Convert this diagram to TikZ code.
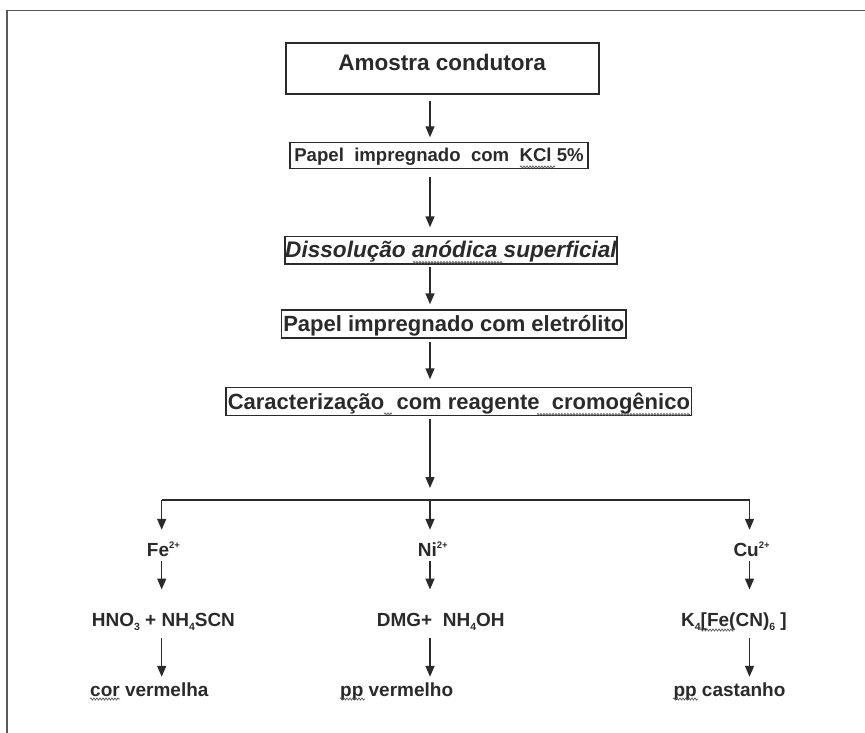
\documentclass[tikz,border=0pt]{standalone}
\usepackage{fontspec}
\setmainfont{Liberation Sans}
\usetikzlibrary{arrows.meta,decorations.pathmorphing,calc}
\definecolor{ink}{HTML}{2A2A2A}
\definecolor{framec}{HTML}{5A5A5A}
\newcommand{\dsub}[1]{\raisebox{-0.22em}{\scalebox{0.55}{#1}}}
\newcommand{\dsup}[1]{\raisebox{0.38em}{\scalebox{0.5}{#1}}}
\begin{document}
\begin{tikzpicture}[x=1pt,y=-1pt,
  every node/.style={text=ink},
  box/.style={draw=ink,line width=1.4pt,rectangle,inner xsep=0pt,inner ysep=0pt,anchor=base,font=\bfseries},
  lbl/.style={inner sep=0pt,anchor=base west,text height=14pt,text depth=4pt,font=\fontsize{19}{22}\selectfont\bfseries},
  arr/.style={draw=ink,line width=1.4pt,-{Triangle[width=9pt,length=11pt]}},
  ln/.style={draw=ink,line width=1.4pt},
  frameline/.style={draw=framec,line width=1.6pt},
  squig/.style={draw=gray!70!black,line width=0.7pt,decorate,decoration={snake,amplitude=1.1pt,segment length=3pt}}
]
\useasboundingbox (0,0) rectangle (865,733);
\draw[frameline] (7,733) -- (7,10.7) -- (865,10.7);

% main boxes
\node[box,line width=1.8pt,minimum width=313pt,text height=28pt,text depth=23.3pt,font=\fontsize{22.5}{26}\selectfont\bfseries] (b1) at (442.2,70.7) {Amostra condutora};
\node[box,minimum width=298pt,text height=19pt,text depth=6.6pt,font=\fontsize{18.6}{22}\selectfont\bfseries] (b2) at (439,161.7) {Papel\ \ impregnado\ \ com\ \ KCl 5\%};
\node[box,minimum width=331.7pt,text height=20.6pt,text depth=6.7pt,font=\fontsize{22.6}{26}\selectfont\bfseries\itshape] (b3) at (451,257.3) {Dissolução anódica superficial};
\node[box,minimum width=344.3pt,text height=21pt,text depth=7pt,font=\fontsize{22}{26}\selectfont\bfseries] (b4) at (453.8,331) {Papel impregnado com eletrólito};
\node[box,minimum width=465.7pt,text height=21.6pt,text depth=6.4pt,font=\fontsize{22}{26}\selectfont\bfseries] (b5) at (458.9,409.3) {Caracterização\ \ com reagente\ \ cromogênico};

\coordinate (A) at (430,0);
\coordinate (j) at (430,500);
\coordinate (jl) at (161.7,500);
\coordinate (jr) at (749.5,500);

\draw[arr,shorten <=6pt,shorten >=4.7pt] (b1.south -| A) -- (b2.north -| A);
\draw[arr,shorten <=8.4pt,shorten >=8.7pt] (b2.south -| A) -- (b3.north -| A);
\draw[arr,shorten <=2.7pt,shorten >=5pt] (b3.south -| A) -- (b4.north -| A);
\draw[arr,shorten <=3.7pt,shorten >=7.7pt] (b4.south -| A) -- (b5.north -| A);
\draw[arr,shorten <=2.3pt,shorten >=12pt] (b5.south -| A) -- (j);
\draw[ln] (jl) -- (jr);

% branch labels
\node[lbl] (fe) at (146.7,556) {Fe\dsup{2+}};
\node[lbl] (ni) at (417.7,556) {Ni\dsup{2+}};
\node[lbl] (cu) at (733.3,556) {Cu\dsup{2+}};
\node[lbl] (ra) at (91.7,626.7) {HNO\dsub{3} + NH\dsub{4}SCN};
\node[lbl] (rb) at (376.7,626.7) {DMG+\ \ NH\dsub{4}OH};
\node[lbl] (rc) at (681,626.7) {K\dsub{4}[Fe(CN)\dsub{6} ]};
\node[lbl] (ea) at (90,696) {cor vermelha};
\node[lbl] (eb) at (340,696) {pp vermelho};
\node[lbl] (ec) at (673.3,696) {pp castanho};

\draw[arr,shorten >=12pt] (jl) -- (fe.north -| jl);
\draw[arr,shorten >=12pt] (j) -- (ni.north -| j);
\draw[arr,shorten >=12pt] (jr) -- (cu.north -| jr);

\draw[arr,shorten <=1pt,shorten >=23pt] (fe.south -| jl) -- (ra.north -| jl);
\draw[arr,shorten <=1pt,shorten >=23pt] (ni.south -| j) -- (rb.north -| j);
\draw[arr,shorten <=1pt,shorten >=23pt] (cu.south -| jr) -- (rc.north -| jr);

\draw[arr,shorten <=7pt,shorten >=5pt] (ra.south -| jl) -- (ea.north -| jl);
\draw[arr,shorten <=7pt,shorten >=5pt] (rb.south -| j) -- (eb.north -| j);
\draw[arr,shorten <=7pt,shorten >=5pt] (rc.south -| jr) -- (ec.north -| jr);

% proofing squiggles
\draw[squig] (520,167) -- (555,167);
\draw[squig] (413,262.5) -- (502,262.5);
\draw[squig] (384,414) -- (392,414);
\draw[squig] (537,414.5) -- (690,414.5);
\draw[squig] (700,630) -- (735,630);
\draw[squig] (90,699) -- (120,699);
\draw[squig] (340,699) -- (365,699);
\draw[squig] (673,699) -- (698,699);
\end{tikzpicture}
\end{document}
